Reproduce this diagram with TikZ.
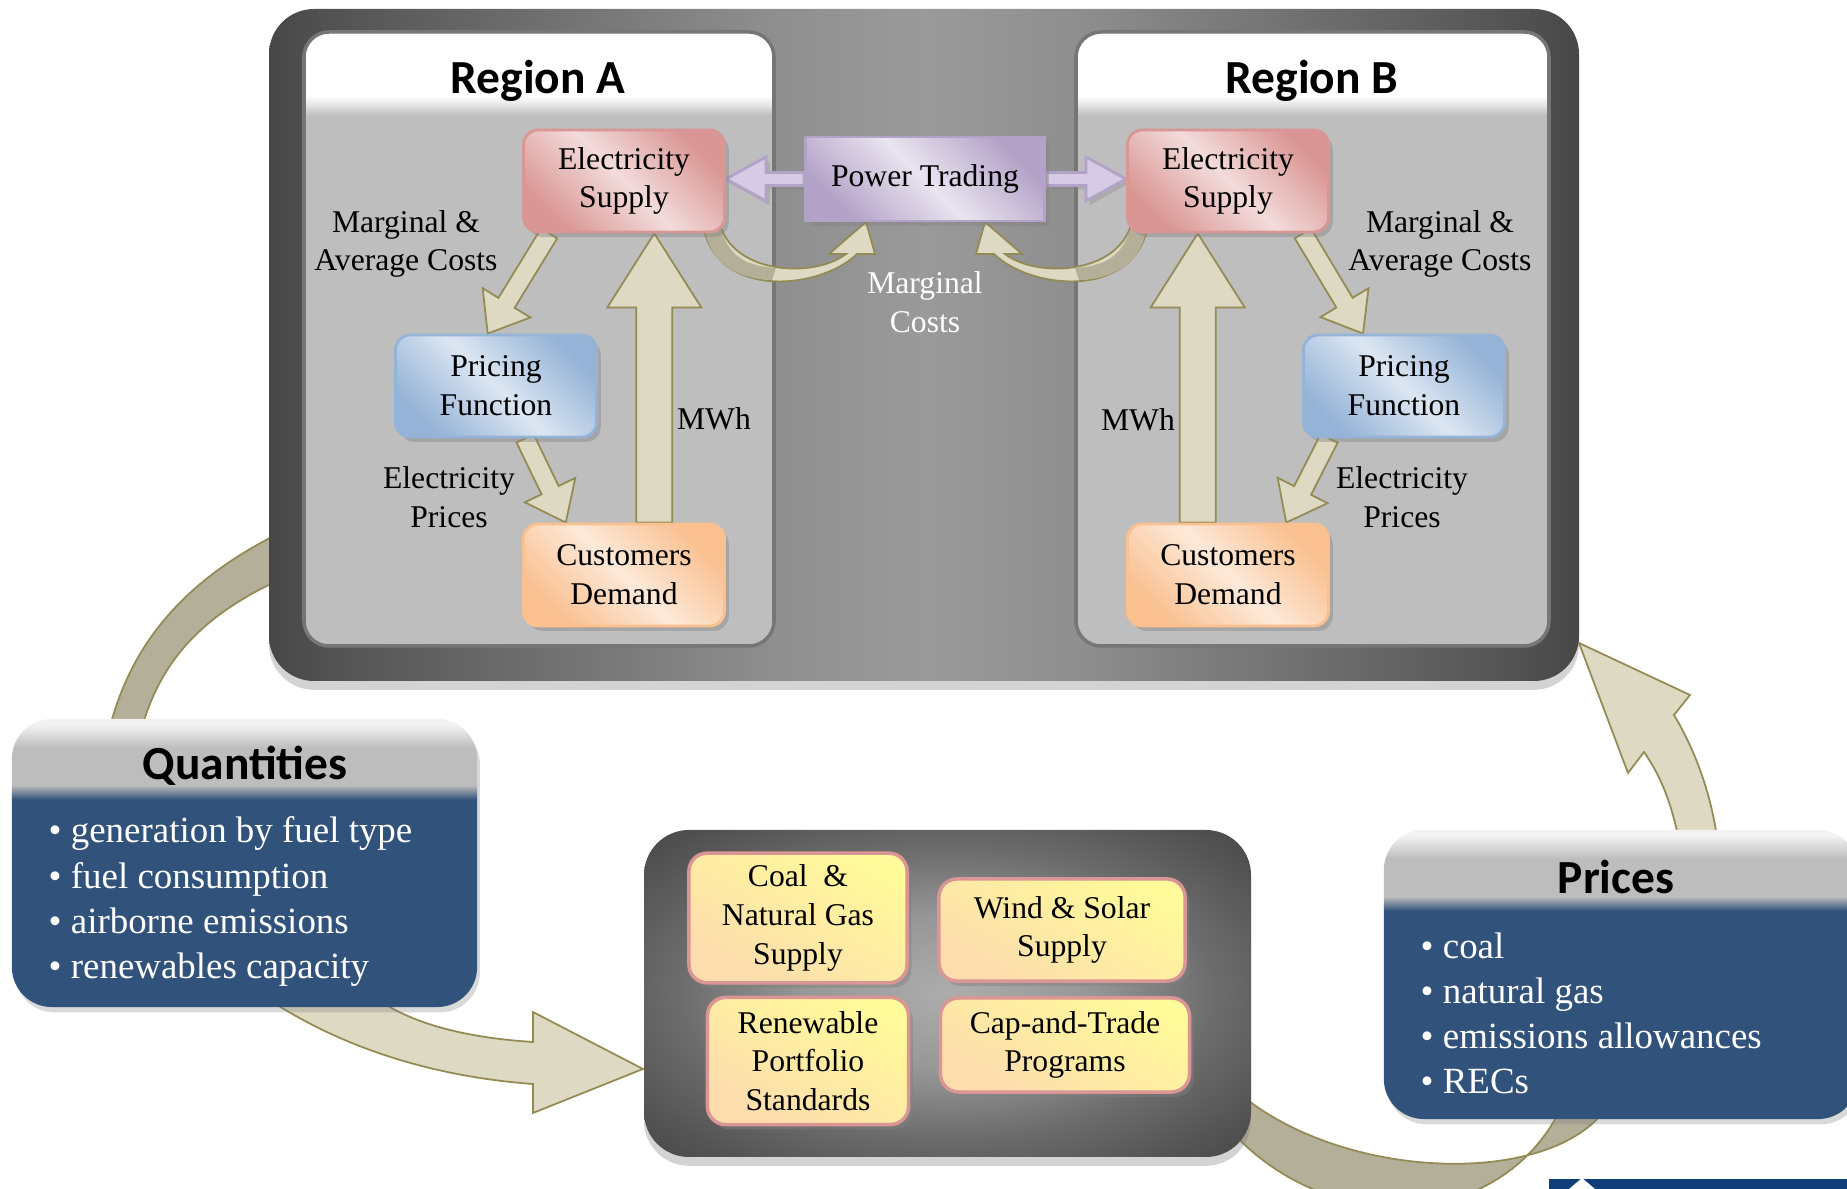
\documentclass[tikz,border=0pt]{standalone}
\usepackage{fontspec}
\setmainfont{Liberation Serif}
\newfontfamily\titlefont{Carlito}
\usetikzlibrary{calc,shadows}

\definecolor{arrowfill}{HTML}{DDD9C3}
\definecolor{arrowdark}{HTML}{B3AF99}
\definecolor{arrowline}{HTML}{948A54}
\definecolor{esdark}{HTML}{DA9694}
\definecolor{eslight}{HTML}{F2DCDB}
\definecolor{pfdark}{HTML}{95B3D7}
\definecolor{pflight}{HTML}{DCE6F2}
\definecolor{cddark}{HTML}{FAC090}
\definecolor{cdlight}{HTML}{FDE9D9}
\definecolor{ptdark}{HTML}{B3A2C7}
\definecolor{ptlight}{HTML}{E9E4F0}
\definecolor{ptfill}{HTML}{D5CBE4}
\definecolor{fuelyellow}{HTML}{FFFA9A}
\definecolor{fuelpeach}{HTML}{FDDCAE}
\definecolor{fuelline}{HTML}{D99694}
\definecolor{panelgray}{HTML}{BEBEBE}
\definecolor{panelline}{HTML}{767676}
\definecolor{framedark}{HTML}{474747}
\definecolor{framemid}{HTML}{555555}
\definecolor{framegray}{HTML}{8E8E8E}
\definecolor{framelight}{HTML}{9A9A9A}
\definecolor{boxlight}{HTML}{ADADAD}
\definecolor{boxmid}{HTML}{969696}
\definecolor{boxdark}{HTML}{6C6C6C}
\definecolor{hdrgray}{HTML}{BDBDBD}
\definecolor{listblue}{HTML}{31527A}
\definecolor{logoblue}{HTML}{0F3D7A}

\pgfdeclarehorizontalshading{frameshade}{100bp}{color(0bp)=(framedark); color(25bp)=(framedark); color(28bp)=(framemid); color(44bp)=(framegray); color(50bp)=(framelight); color(56bp)=(framegray); color(72bp)=(framemid); color(75bp)=(framedark); color(100bp)=(framedark)}
\pgfdeclareradialshading{boxshade}{\pgfpoint{0bp}{0bp}}{color(0bp)=(boxlight); color(12bp)=(boxmid); color(22bp)=(boxdark); color(30bp)=(framemid); color(36bp)=(framedark); color(50bp)=(framedark)}
\pgfdeclareverticalshading{panelshade}{100bp}{color(0bp)=(panelgray); color(68.2bp)=(panelgray); color(69bp)=(panelgray!45!white); color(69.8bp)=(white); color(100bp)=(white)}
\pgfdeclareverticalshading{listshade}{100bp}{color(0bp)=(listblue); color(61bp)=(listblue); color(63.5bp)=(hdrgray); color(70bp)=(hdrgray); color(74bp)=(white!95!black); color(100bp)=(white!95!black)}

\pgfdeclarelayer{back}
\pgfdeclarelayer{mid}
\pgfsetlayers{back,mid,main}

\tikzset{
  shaftw/.store in=\bashaft, headw/.store in=\bahead, headl/.store in=\balen,
  shaftw=0.095cm, headw=0.28cm, headl=0.36cm,
  blockarrow/.style={draw=arrowline, fill=arrowfill, line width=0.5pt,
    to path={coordinate (ba-s) ($(\tikztotarget)!\balen!(\tikztostart)$) coordinate (ba-h)
      ($(ba-s)!\bashaft!90:(\tikztotarget)$) -- ($(ba-h)!\bashaft!90:(\tikztotarget)$)
      -- ($(ba-h)!\bahead!90:(\tikztotarget)$) -- (\tikztotarget)
      -- ($(ba-h)!\bahead!-90:(\tikztotarget)$) -- ($(ba-h)!\bashaft!-90:(\tikztotarget)$)
      -- ($(ba-s)!\bashaft!-90:(\tikztotarget)$) -- cycle}},
  ptarrow/.style={blockarrow, draw=ptdark, fill=ptfill, line width=0.8pt,
    shaftw=0.065cm, headw=0.22cm, headl=0.40cm,
    drop shadow={shadow xshift=1pt, shadow yshift=-1.2pt, opacity=.3}},
  band/.style={draw=arrowline, line width=0.5pt},
  card/.style={rounded corners=0.15cm, minimum width=2.01cm, minimum height=1.02cm,
    align=center, line width=0.8pt, font=\fontsize{9pt}{11pt}\selectfont,
    drop shadow={shadow xshift=1.2pt, shadow yshift=-1.4pt, opacity=.4}},
  esbox/.style={card, draw=esdark, left color=esdark, right color=esdark, middle color=eslight, shading angle=135},
  pfbox/.style={card, draw=pfdark, left color=pfdark, right color=pfdark, middle color=pflight, shading angle=135},
  cdbox/.style={card, draw=cddark, left color=cddark, right color=cddark, middle color=cdlight, shading angle=135},
  ptbox/.style={card, rounded corners=0pt, minimum width=2.39cm, minimum height=0.84cm,
    draw=ptdark, left color=ptdark, right color=ptdark, middle color=ptlight, shading angle=135},
  fuelbox/.style={rounded corners=0.18cm, align=center, draw=fuelline, line width=1pt,
    top color=fuelyellow, bottom color=fuelpeach, shading angle=-30,
    font=\fontsize{9pt}{11pt}\selectfont,
    drop shadow={shadow xshift=1.2pt, shadow yshift=-1.4pt, opacity=.45}},
  note/.style={align=center, font=\fontsize{9pt}{11pt}\selectfont},
  titletext/.style={font=\titlefont\bfseries\fontsize{13.5pt}{16pt}\selectfont},
  listbox/.style={rounded corners=0.4cm, shade, shading=listshade,
    drop shadow={shadow xshift=0.8pt, shadow yshift=-1.5pt, opacity=.3}},
  listtext/.style={anchor=west, align=left, inner sep=0pt, text=white,
    font=\fontsize{10.5pt}{12.8pt}\selectfont},
  mcarrow/.pic={
    \draw[band, fill=arrowfill] (703,225) .. controls (716,300) and (820,290) .. (857,254)
      -- (875,254) -- (866,222) -- (829,254) -- (846,254)
      .. controls (815,278) and (735,275) .. (720,225) -- cycle;
    \fill[arrowdark] (704,226) .. controls (709,262) and (735,279) .. (772,280)
      -- (776,268) .. controls (745,266) and (728,256) .. (720,226) -- cycle;
  }
}

\begin{document}
\begin{tikzpicture}[x=0.01cm, y=-0.01cm]
  \useasboundingbox (0,0) rectangle (1847,1189);

  \begin{pgfonlayer}{back}
    \draw[band, fill=arrowdark] (108,735) .. controls (130,640) and (190,575) .. (290,528)
      -- (290,575) .. controls (210,610) and (160,655) .. (140,735) -- cycle;
    \draw[band, fill=arrowfill] (262,995) .. controls (350,1055) and (450,1078) .. (533,1084)
      -- (533,1113) -- (643,1069) -- (533,1012) -- (533,1042)
      .. controls (470,1038) and (410,1025) .. (372,995) -- cycle;
    \draw[band, fill=arrowdark] (1230,1130) .. controls (1330,1240) and (1500,1230) .. (1560,1110)
      -- (1605,1110) .. controls (1545,1190) and (1330,1180) .. (1230,1085) -- cycle;
    \draw[band, fill=arrowfill] (1680,845) .. controls (1672,805) and (1662,778) .. (1644,752)
      -- (1628,773) -- (1579,643) -- (1690,695) -- (1674,715)
      .. controls (1695,750) and (1712,795) .. (1718,845) -- cycle;

    \path[shade, shading=frameshade, rounded corners=0.45cm,
      drop shadow={shadow xshift=0pt, shadow yshift=-2.5pt, opacity=.35}]
      (269,9) rectangle (1579,681);
    \shadedraw[shading=panelshade, draw=panelline, line width=1pt, rounded corners=0.25cm]
      (304,32) rectangle (774,646);
    \shadedraw[shading=panelshade, draw=panelline, line width=1pt, rounded corners=0.25cm]
      (1076,32) rectangle (1549,646);

    \path[shade, shading=boxshade, rounded corners=0.45cm,
      drop shadow={shadow xshift=0pt, shadow yshift=-2.5pt, opacity=.35}]
      (644,830) rectangle (1251,1157);
  \end{pgfonlayer}

  \node[titletext] (regA) at (538,81) {Region A};
  \node[titletext] (regB) at (1312,81) {Region B};

  \node[esbox] (esA) at (624,181) {Electricity\\Supply};
  \node[pfbox] (pfA) at (496,386) {Pricing\\Function};
  \node[cdbox] (cdA) at (624,575) {Customers\\Demand};
  \node[esbox] (esB) at (1228,181) {Electricity\\Supply};
  \node[pfbox] (pfB) at (1404,386) {Pricing\\Function};
  \node[cdbox] (cdB) at (1228,575) {Customers\\Demand};
  \node[ptbox] (trade) at (925,179) {Power Trading};
  \coordinate (tA) at (trade.west -| esA.east);
  \coordinate (tB) at (trade.east -| esB.west);

  \node[note] (costA) at (406,244) {Marginal \&\\Average Costs};
  \node[note] (costB) at (1440,244) {Marginal \&\\Average Costs};
  \node[note] (mwhA) at (714,419) {MWh};
  \node[note] (mwhB) at (1138,420) {MWh};
  \node[note] (priceA) at (449,497) {Electricity\\Prices};
  \node[note] (priceB) at (1402,497) {Electricity\\Prices};
  \node[note, text=white] (mcost) at (925,302) {Marginal\\Costs};

  \begin{pgfonlayer}{mid}
    \draw[blockarrow] (esA.215) to (pfA.99);
    \draw[blockarrow] (pfA.299) to (cdA.138);
    \draw[blockarrow, shaftw=0.18cm, headw=0.47cm, headl=0.74cm] (cdA.60) to (esA.300);
    \draw[blockarrow] (esB.325) to (pfB.128);
    \draw[blockarrow] (pfB.215) to (cdB.42);
    \draw[blockarrow, shaftw=0.18cm, headw=0.47cm, headl=0.74cm] (cdB.120) to (esB.240);
    \draw[ptarrow] (trade.west) to (tA);
    \draw[ptarrow] (trade.east) to (tB);
    \pic at (0,0) {mcarrow};
    \pic[xscale=-1] at (1851,0) {mcarrow};
  \end{pgfonlayer}

  \node[fuelbox, minimum width=2.18cm, minimum height=1.24cm] (coal) at (798,918) {Coal\ \ \&\\Natural Gas\\Supply};
  \node[fuelbox, minimum width=2.46cm, minimum height=1.02cm] (wind) at (1062,930) {Wind \& Solar\\Supply};
  \node[fuelbox, minimum width=2.01cm, minimum height=1.27cm] (rps) at (808,1061) {Renewable\\Portfolio\\Standards};
  \node[fuelbox, minimum width=2.49cm, minimum height=0.94cm] (cap) at (1065,1045) {Cap-and-Trade\\Programs};

  \node[listbox, minimum width=4.65cm, minimum height=2.88cm] (quant) at (244.5,863) {};
  \node[titletext] (qtitle) at (245,766) {Quantities};
  \node[listtext] (qlist) at (48,901.5) {\textbullet\ generation by fuel type\\\textbullet\ fuel consumption\\\textbullet\ airborne emissions\\\textbullet\ renewables capacity};
  \node[listbox, minimum width=4.74cm, minimum height=2.89cm] (prices) at (1621,974.5) {};
  \node[titletext] (ptitle) at (1616,877) {Prices};
  \node[listtext] (plist) at (1420,1013.5) {\textbullet\ coal\\\textbullet\ natural gas\\\textbullet\ emissions allowances\\\textbullet\ RECs};

  \fill[logoblue] (1549,1179) rectangle (1847,1189);
  \fill[white] (1569,1189) -- (1582,1178) -- (1595,1189) -- cycle;
\end{tikzpicture}
\end{document}
